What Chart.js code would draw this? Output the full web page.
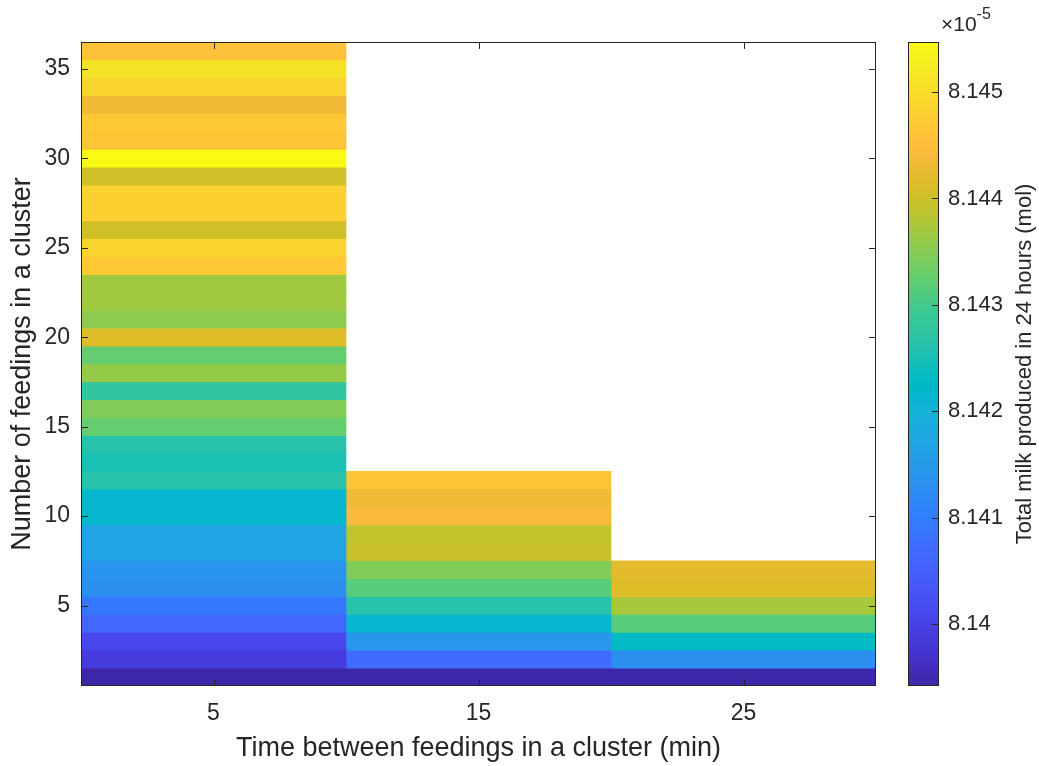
<!DOCTYPE html>
<html>
<head>
<meta charset="utf-8">
<script src="https://cdn.jsdelivr.net/npm/chart.js@4.4.1/dist/chart.umd.min.js"></script>
<style>
  html, body { margin: 0; padding: 0; background: #fff; }
  #wrap { position: relative; width: 1039px; height: 766px; }
  #mainBox { position: absolute; left: 0; top: 0; width: 900px; height: 766px; }
  #barBox { position: absolute; left: 880px; top: 0; width: 159px; height: 766px; }
</style>
</head>
<body>
<div id="wrap">
  <div id="mainBox"><canvas id="heatChart"></canvas></div>
  <div id="barBox"><canvas id="cbarChart"></canvas></div>
</div>
<script>
// time between feedings (min), one column each
const timeBetween = [5, 15, 25];

// total milk in 24 h (x 1e-5 mol), rows = number of feedings 1..n
const milk5 = [
  8.13942, 8.13990, 8.14009, 8.14063, 8.14090, 8.14130, 8.14139, 8.14172, 8.14172, 8.14214,
  8.14214, 8.14263, 8.14251, 8.14263, 8.14326, 8.14345, 8.14278, 8.14359, 8.14326, 8.14414,
  8.14353, 8.14366, 8.14366, 8.14468, 8.14487, 8.14402, 8.14480, 8.14480, 8.14402, 8.14547,
  8.14462, 8.14468, 8.14432, 8.14487, 8.14511, 8.14456
];
const milk15 = [
  8.13942, 8.14069, 8.14142, 8.14211, 8.14263, 8.14317, 8.14345, 8.14396, 8.14390, 8.14444,
  8.14432, 8.14462
];
const milk25 = [8.13942, 8.14130, 8.14229, 8.14317, 8.14372, 8.14414, 8.14420];

const xTicks = [5, 15, 25];
const yTicks = [5, 10, 15, 20, 25, 30, 35];
const cbarTicks = [8.140, 8.141, 8.142, 8.143, 8.144, 8.145];

const axisColor = '#262626';
const fontFamily = "'Liberation Sans', Arial, Helvetica, sans-serif";

// matlab parula, 64 entries
const parula = [
  [0.2422,0.1504,0.6603],[0.2504,0.1650,0.7076],[0.2578,0.1818,0.7511],[0.2647,0.1978,0.7952],
  [0.2706,0.2147,0.8364],[0.2751,0.2342,0.8710],[0.2783,0.2559,0.8991],[0.2803,0.2782,0.9221],
  [0.2813,0.3006,0.9414],[0.2810,0.3228,0.9579],[0.2795,0.3447,0.9717],[0.2760,0.3667,0.9829],
  [0.2699,0.3892,0.9906],[0.2602,0.4123,0.9952],[0.2440,0.4358,0.9988],[0.2206,0.4603,0.9973],
  [0.1963,0.4847,0.9892],[0.1834,0.5074,0.9798],[0.1786,0.5289,0.9682],[0.1764,0.5499,0.9520],
  [0.1687,0.5703,0.9359],[0.1540,0.5902,0.9218],[0.1460,0.6091,0.9079],[0.1380,0.6276,0.8973],
  [0.1248,0.6459,0.8883],[0.1113,0.6635,0.8763],[0.0952,0.6798,0.8598],[0.0689,0.6948,0.8394],
  [0.0297,0.7082,0.8163],[0.0036,0.7203,0.7917],[0.0067,0.7312,0.7660],[0.0433,0.7411,0.7394],
  [0.0964,0.7500,0.7120],[0.1408,0.7584,0.6842],[0.1717,0.7670,0.6554],[0.1938,0.7758,0.6251],
  [0.2161,0.7843,0.5923],[0.2470,0.7918,0.5567],[0.2906,0.7973,0.5188],[0.3406,0.8008,0.4789],
  [0.3909,0.8029,0.4354],[0.4456,0.8024,0.3909],[0.5044,0.7993,0.3480],[0.5616,0.7942,0.3045],
  [0.6174,0.7876,0.2612],[0.6720,0.7793,0.2227],[0.7242,0.7698,0.1910],[0.7738,0.7598,0.1646],
  [0.8203,0.7498,0.1535],[0.8634,0.7406,0.1596],[0.9035,0.7330,0.1774],[0.9393,0.7288,0.2100],
  [0.9728,0.7298,0.2394],[0.9956,0.7434,0.2371],[0.9970,0.7659,0.2199],[0.9952,0.7893,0.2028],
  [0.9892,0.8136,0.1885],[0.9786,0.8386,0.1766],[0.9676,0.8639,0.1643],[0.9610,0.8890,0.1537],
  [0.9597,0.9135,0.1423],[0.9628,0.9373,0.1265],[0.9691,0.9606,0.1064],[0.9769,0.9839,0.0805]
];

const allVals = milk5.concat(milk15, milk25);
const cmin = Math.min(...allVals);
const cmax = Math.max(...allVals);

function rgb(c) {
  return 'rgb(' + c.map(k => Math.round(k * 255)).join(',') + ')';
}

function colorFor(v) {
  let t = (v - cmin) / (cmax - cmin) * 63;
  t = Math.max(0, Math.min(63, t));
  const i = Math.min(62, Math.floor(t));
  const f = t - i;
  const a = parula[i], b = parula[i + 1];
  return rgb([0, 1, 2].map(k => a[k] + (b[k] - a[k]) * f));
}

// box + inward ticks like matlab axes
const boxPlugin = {
  id: 'matlabBox',
  afterDatasetsDraw(chart, args, opts) {
    const { ctx, chartArea: a } = chart;
    const len = 7;
    ctx.save();
    ctx.strokeStyle = axisColor;
    ctx.lineWidth = 1;
    ctx.beginPath();
    if (opts.xTicks) {
      const sx = chart.scales.x;
      opts.xTicks.forEach(v => {
        const px = Math.round(sx.getPixelForValue(v)) + 0.5;
        ctx.moveTo(px, a.bottom); ctx.lineTo(px, a.bottom - len);
        ctx.moveTo(px, a.top); ctx.lineTo(px, a.top + len);
      });
    }
    if (opts.yTicks) {
      const sy = chart.scales.y;
      opts.yTicks.forEach(v => {
        const py = Math.round(sy.getPixelForValue(v)) + 0.5;
        if (opts.left) { ctx.moveTo(a.left, py); ctx.lineTo(a.left + len, py); }
        ctx.moveTo(a.right, py); ctx.lineTo(a.right - len, py);
      });
    }
    ctx.stroke();
    ctx.strokeRect(a.left + 0.5, a.top + 0.5, a.width - 1, a.height - 1);
    ctx.restore();
  }
};

const heatChart = new Chart('heatChart', {
  type: 'bar',
  data: {
    datasets: [milk5, milk15, milk25].map((vals, k) => ({
      label: timeBetween[k] + ' min',
      data: vals.map((v, i) => ({ x: timeBetween[k], y: [i + 0.5, i + 1.5] })),
      backgroundColor: vals.map(colorFor),
      borderWidth: 0,
      barPercentage: 1,
      categoryPercentage: 1,
      grouped: false
    }))
  },
  options: {
    responsive: true,
    maintainAspectRatio: false,
    animation: false,
    layout: { padding: { top: 42, right: 24, left: 0, bottom: 0 } },
    plugins: {
      legend: { display: false },
      tooltip: { enabled: false },
      matlabBox: { xTicks: xTicks, yTicks: yTicks, left: true }
    },
    scales: {
      x: {
        type: 'linear',
        min: 0,
        max: 30,
        offset: false,
        afterBuildTicks: s => { s.ticks = xTicks.map(v => ({ value: v })); },
        afterFit: s => { s.height = 80; },
        grid: { display: false, drawTicks: false },
        border: { display: false },
        ticks: { color: axisColor, padding: 14, font: { size: 23, family: fontFamily } },
        title: {
          display: true,
          text: 'Time between feedings in a cluster (min)',
          color: axisColor,
          font: { size: 27, family: fontFamily, lineHeight: 1 },
          padding: { top: 0, bottom: 4 }
        }
      },
      y: {
        type: 'linear',
        min: 0.5,
        max: 36.5,
        afterBuildTicks: s => { s.ticks = yTicks.map(v => ({ value: v })); },
        afterFit: s => { s.width = 81; },
        grid: { display: false, drawTicks: false },
        border: { display: false },
        ticks: { color: axisColor, padding: 11, font: { size: 23, family: fontFamily } },
        title: {
          display: true,
          text: 'Number of feedings in a cluster',
          color: axisColor,
          font: { size: 27, family: fontFamily, lineHeight: 1 },
          padding: { top: 9, bottom: 0 }
        }
      }
    }
  },
  plugins: [boxPlugin]
});

// colorbar texts: exponent on top, rotated label on the right
const cbarTextPlugin = {
  id: 'cbarText',
  afterDraw(chart) {
    const { ctx, chartArea: a } = chart;
    ctx.save();
    ctx.fillStyle = axisColor;
    ctx.textBaseline = 'alphabetic';
    ctx.textAlign = 'left';
    ctx.font = '21px ' + fontFamily;
    ctx.fillText('\u00d710', 61, 31);
    const w = ctx.measureText('\u00d710').width;
    ctx.font = '16px ' + fontFamily;
    ctx.fillText('-5', 61 + w, 19);
    ctx.translate(151, (a.top + a.bottom) / 2);
    ctx.rotate(-Math.PI / 2);
    ctx.textAlign = 'center';
    ctx.font = '22px ' + fontFamily;
    ctx.fillText('Total milk produced in 24 hours (mol)', 0, 0);
    ctx.restore();
  }
};

const cbarChart = new Chart('cbarChart', {
  type: 'bar',
  data: {
    labels: [''],
    datasets: [{
      data: [[cmin, cmax]],
      backgroundColor: c => {
        const a = c.chart.chartArea;
        if (!a) return rgb(parula[32]);
        const g = c.chart.ctx.createLinearGradient(0, a.bottom, 0, a.top);
        parula.forEach((p, i) => g.addColorStop(i / 63, rgb(p)));
        return g;
      },
      borderWidth: 0,
      barPercentage: 1,
      categoryPercentage: 1
    }]
  },
  options: {
    responsive: true,
    maintainAspectRatio: false,
    animation: false,
    layout: { padding: { top: 42, left: 28, bottom: 80, right: 0 } },
    plugins: {
      legend: { display: false },
      tooltip: { enabled: false },
      matlabBox: { yTicks: cbarTicks, left: false }
    },
    scales: {
      x: { display: false },
      y: {
        position: 'right',
        min: cmin,
        max: cmax,
        afterBuildTicks: s => { s.ticks = cbarTicks.map(v => ({ value: v })); },
        afterFit: s => { s.width = 100; },
        grid: { display: false, drawTicks: false },
        border: { display: false },
        ticks: {
          color: axisColor,
          padding: 9,
          font: { size: 22, family: fontFamily },
          callback: v => String(Number(v.toFixed(3)))
        }
      }
    }
  },
  plugins: [boxPlugin, cbarTextPlugin]
});
</script>
</body>
</html>
